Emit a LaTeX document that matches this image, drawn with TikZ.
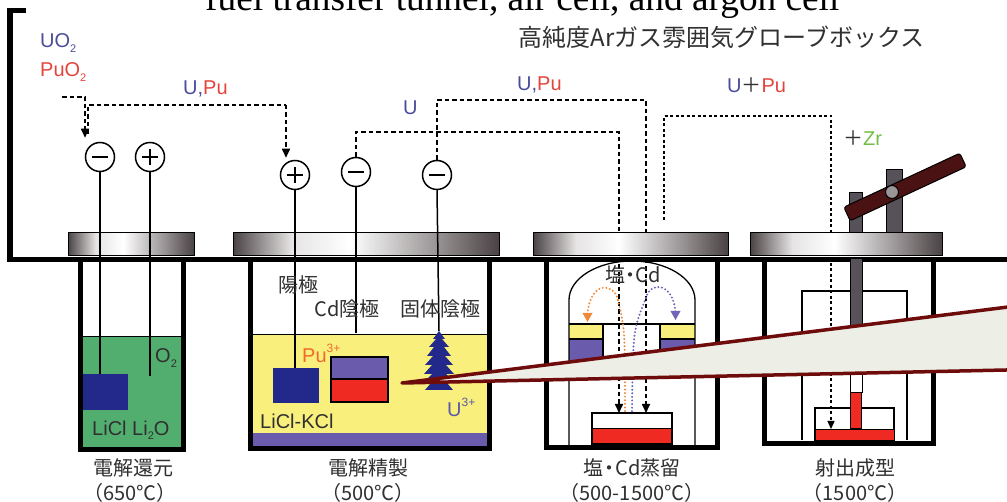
\documentclass[tikz,border=0pt]{standalone}
\usepackage{fontspec}
\setmainfont{Liberation Sans}
\newfontfamily\jpfont{Noto Sans CJK JP}
\newfontfamily\serifen{Liberation Serif}
\usetikzlibrary{arrows.meta}

\definecolor{ublue}{HTML}{4B4D9C}
\definecolor{pured}{HTML}{E5443C}
\definecolor{puorange}{HTML}{EE6A2E}
\definecolor{uion}{HTML}{5C5AA6}
\definecolor{zrgreen}{HTML}{72BE44}
\definecolor{txt}{HTML}{303030}
\definecolor{navy}{HTML}{22298A}
\definecolor{saltgreen}{HTML}{52AE6F}
\definecolor{saltyellow}{HTML}{F9EF7D}
\definecolor{cdpurple}{HTML}{6B5BAD}
\definecolor{metalred}{HTML}{EE2A22}
\definecolor{levercol}{HTML}{4A1212}
\definecolor{postcol}{HTML}{57525A}
\definecolor{callfill}{HTML}{EDEEE6}
\definecolor{callline}{HTML}{6E0B0B}
\definecolor{vaporor}{HTML}{EE8A3A}
\definecolor{vaporpu}{HTML}{6F64B8}
\definecolor{liddark}{HTML}{4A4244}
\definecolor{lidmid}{HTML}{9A9596}
\definecolor{lidlight}{HTML}{E6E4E4}

% metallic lid: the path is fitted to the 25bp..75bp band of the shading
\pgfdeclarehorizontalshading{lidshade}{100bp}{color(0bp)=(liddark); color(25bp)=(liddark); color(36bp)=(lidlight); color(47bp)=(white); color(63bp)=(lidmid); color(75bp)=(liddark); color(100bp)=(liddark)}

\newcommand\lowidx[1]{\raisebox{-0.22em}{\fontsize{11}{11}\selectfont #1}}
\newcommand\highidx[1]{\raisebox{0.5em}{\fontsize{12}{12}\selectfont #1}}

\begin{document}
\begin{tikzpicture}[x=1pt,y=-1pt,
  wall/.style={line width=5, line join=miter},
  thinline/.style={line width=1.3, draw=black},
  wire/.style={line width=1.5},
  negcirc/.style={circle, draw, line width=1.5, fill=white, minimum size=29, inner sep=0,
    path picture={\draw[line width=1.5] ([xshift=-8pt]path picture bounding box.center) -- ([xshift=8pt]path picture bounding box.center);}},
  poscirc/.style={circle, draw, line width=1.5, fill=white, minimum size=29, inner sep=0,
    path picture={\draw[line width=1.5] ([xshift=-8pt]path picture bounding box.center) -- ([xshift=8pt]path picture bounding box.center)
      ([yshift=-8pt]path picture bounding box.center) -- ([yshift=8pt]path picture bounding box.center);}},
  flow/.style={line width=1.6, dash pattern=on 4.5pt off 3pt, -{Triangle[length=9pt,width=8pt]}},
  fineflow/.style={line width=1.3, dash pattern=on 3pt off 2.5pt, -{Triangle[length=8pt,width=7pt]}},
  vapor/.style={line width=2.2, dash pattern=on 0pt off 3.6pt, line cap=round},
  block/.style={inner sep=0, outer sep=0, anchor=north west},
  lid/.style={shading=lidshade, draw=black, line width=1},
  lbl/.style={font=\jpfont\fontsize{20}{22}\selectfont, text=txt, inner sep=0},
  chem/.style={font=\fontsize{20}{22}\selectfont, inner sep=0, anchor=west},
]
\useasboundingbox (0,0) rectangle (1007,502);
\clip (0,0) rectangle (1007,502);
\fill[white] (0,0) rectangle (1007,502);

% headings
\node[anchor=base west, inner sep=0, font=\serifen\fontsize{37.3}{40}\selectfont] (hdr) at (205,10.5) {fuel transfer tunnel, air cell, and argon cell};
\node[font=\jpfont\fontsize{24}{26}\selectfont, text=txt, inner sep=0] (title) at (721.5,37) {高純度Arガス雰囲気グローブボックス};

% glove box wall
\draw[line width=5.5] (26,10.5) -- (10,10.5) -- (10,259.5) -- (1015,259.5);

% ---------- cell 1: electrolytic reduction ----------
\fill[saltgreen] (83,336) rectangle (181,449);
\draw[line width=0.8] (83,336) -- (181,336);
\node[block, fill=navy, minimum width=45, minimum height=36] (ox1) at (83,374) {};
\draw[wall] (80.5,259) -- (80.5,449.5) -- (183.5,449.5) -- (183.5,259);

% ---------- cell 2: electrorefining ----------
\fill[saltyellow] (253,334) rectangle (487,433);
\fill[cdpurple] (253,433) rectangle (487,446);
\draw[line width=0.8] (253,334) -- (487,334);
\node[block, fill=navy, minimum width=46, minimum height=35] (anode2) at (273,368) {};
\fill[cdpurple] (331,357) rectangle (388,379);
\fill[metalred] (331,379) rectangle (388,402);
\node[block, draw, line width=1.8, minimum width=57, minimum height=45] (cdpot) at (331,357) {};
\draw[line width=1.2] (331,379) -- (388,379);
\fill[navy] (439,331) -- (445,339) -- (442,339) -- (449,347) -- (444,347) -- (451,356) -- (445,356)
  -- (453,365) -- (446,365) -- (454,374) -- (446,374) -- (455,383) -- (447,383) -- (453,390)
  -- (425,390) -- (431,383) -- (423,383) -- (432,374) -- (424,374) -- (432,365) -- (425,365)
  -- (433,356) -- (427,356) -- (434,347) -- (429,347) -- (436,339) -- (433,339) -- cycle;
\coordinate (tree) at (439,331);
\draw[wall] (250.5,259) -- (250.5,448.5) -- (489.5,448.5) -- (489.5,259);

% ---------- cell 3: salt / Cd distillation ----------
\fill[saltyellow] (569,324) rectangle (603,339);
\fill[cdpurple] (569,339) rectangle (603,360);
\fill[saltyellow] (660,324) rectangle (695,339);
\fill[cdpurple] (660,339) rectangle (695,360);
\draw[thinline] (569,445) -- (569,300) .. controls (569,278.5) and (597.2,261) .. (632,261)
  .. controls (666.8,261) and (695,278.5) .. (695,300) -- (695,445);
\draw[thinline] (569,324) -- (695,324);
\draw[thinline] (569,339) -- (603,339) -- (603,324) (660,324) -- (660,339) -- (695,339);
\draw[thinline] (603,339) -- (603,360) (660,339) -- (660,360);
\fill[metalred] (592,429) rectangle (672,443);
\node[block, draw, line width=1.3, minimum width=80, minimum height=31] (dpot) at (592,413) {};
\draw[line width=1] (592,429) -- (672,429);
\draw[wall] (546.5,259) -- (546.5,447.5) -- (717.5,447.5) -- (717.5,259);

% ---------- cell 4: injection casting ----------
\draw[thinline] (802,440) -- (802,291) -- (907,291) -- (907,440);
\node[block, draw, line width=1.2, fill=white, minimum width=79, minimum height=32] (mold) at (815,408) {};
\node[block, fill=metalred, draw, line width=0.8, minimum width=79, minimum height=11] (pool) at (815,429) {};
\node[block, fill=metalred, draw, line width=1, minimum width=11, minimum height=36] (tubered) at (850.5,393) {};
\node[block, fill=white, draw, line width=1, minimum width=12, minimum height=18] (tubeempty) at (850,375) {};
\node[block, fill=postcol, draw, line width=1, minimum width=12, minimum height=116] (rod) at (850,259) {};
\draw[wall] (764.5,259) -- (764.5,443.5) -- (933.5,443.5) -- (933.5,259);

% ---------- electrodes ----------
\node[negcirc] (c1m) at (100,157) {};
\node[poscirc] (c1p) at (150,157) {};
\node[poscirc] (c2p) at (295,175) {};
\node[negcirc] (c2m) at (356,172) {};
\node[negcirc] (c2s) at (437,175) {};

% ---------- material flow ----------
\coordinate (feed) at (62,97);
\coordinate (upu) at (664,220);
\draw[flow] (feed) -| ([xshift=-15pt,yshift=4pt]c1m.north);
\draw[flow, -] ([xshift=-12pt,yshift=8pt]c1m.north) |- (286,105);
\draw[flow] (286,105) -- ([xshift=-9pt,yshift=2pt]c2p.north);
\draw[flow] (c2m.north) |- (619,132) -- ([xshift=-13pt]dpot.north);
\draw[flow] (c2s.north) |- (646,100) -- ([xshift=14pt]dpot.north);
\draw[fineflow] (upu) |- (831,116) -- ([xshift=-23.5pt]pool.north);

% vapour paths inside the still
\draw[vapor, draw=vaporor] (618,300) .. controls (614,282) and (590,281) .. (587.5,314);
\fill[vaporor] (582.5,313) -- (592.5,313) -- (587.5,322) -- cycle;
\draw[vapor, draw=vaporor] (618,300) .. controls (625,330) .. (625,412);
\draw[vapor, draw=vaporpu] (646,298) .. controls (650,281) and (673,282) .. (675.5,312);
\fill[vaporpu] (670.5,311) -- (680.5,311) -- (675.5,320) -- cycle;
\draw[vapor, draw=vaporpu] (646,298) .. controls (633,330) .. (632,412);

% ---------- lids ----------
\shadedraw[lid] (68,233) rectangle (194,256);
\shadedraw[lid] (233,233) rectangle (499,256);
\shadedraw[lid] (533,233) rectangle (728,256);
\shadedraw[lid] (750,233) rectangle (942,256);

% electrode leads
\draw[wire] (c1m.south) -- (c1m.south |- ox1.north);
\draw[wire] (c1p.south) -- (150,376);
\draw[wire] (c2p.south) -- (c2p.south |- anode2.north);
\draw[wire] (c2m.south) -- (356,333);
\draw[wire] (c2s.south) -- (tree);

% casting lever and posts
\node[block, fill=postcol, draw, line width=1, minimum width=13, minimum height=40] (post1) at (849,193) {};
\node[block, fill=postcol, draw, line width=1, minimum width=16, minimum height=63] (post2) at (886,170) {};
\filldraw[fill=levercol, draw=black, line width=1, rounded corners=2.5] (850.2,220.8) -- (843.8,207.2) -- (959.8,153.2) -- (966.2,166.8) -- cycle;
\filldraw[fill=lidmid, draw=black, line width=1] (892,192) circle[radius=6.5];

% ---------- labels ----------
\node[chem, text=ublue] (uo2) at (40,43) {UO\lowidx{2}};
\node[chem, text=pured] (puo2) at (40,72) {PuO\lowidx{2}};
\node[chem] (l1) at (183,89) {\textcolor{ublue}{U,}\textcolor{pured}{Pu}};
\node[chem, text=ublue] (l2) at (403,108) {U};
\node[chem] (l3) at (517,85) {\textcolor{ublue}{U,}\textcolor{pured}{Pu}};
\node[chem] (l4) at (727,85) {\textcolor{ublue}{U}\textcolor{txt}{\jpfont ＋}\textcolor{pured}{Pu}};
\node[chem] (l5) at (843,138) {\textcolor{txt}{\jpfont ＋}\textcolor{zrgreen}{Zr}};

\node[chem, text=txt] (o2) at (155,358) {O\lowidx{2}};
\node[chem, text=txt] (salt1) at (92,430) {LiCl Li\lowidx{2}O};
\node[lbl] (an) at (298,285) {陽極};
\node[lbl] (cdc) at (347,309) {Cd陰極};
\node[lbl] (sc) at (440,309) {固体陰極};
\node[chem, text=puorange] (pu3) at (302,353) {Pu\highidx{3+}};
\node[chem, text=uion] (u3) at (447,407) {U\highidx{3+}};
\node[chem, text=txt] (salt2) at (260,421) {LiCl-KCl};
\node[lbl] (vap) at (633,275) {塩\kern-5pt・\kern-5pt Cd};

\node[lbl] (n1) at (133,468) {電解還元};
\node[lbl] (t1) at (130,493) {（650℃）};
\node[lbl] (n2) at (368,468) {電解精製};
\node[lbl] (t2) at (368,493) {（500℃）};
\node[lbl] (n3) at (632,468) {塩\kern-4pt・\kern-4pt Cd蒸留};
\node[lbl] (t3) at (632,493) {（500-1500℃）};
\node[lbl] (n4) at (855,468) {射出成型};
\node[lbl] (t4) at (855,493) {（1500℃）};

% ---------- callout pointer ----------
\coordinate (tip) at (402,383);
\filldraw[fill=callfill, draw=callline, line width=3.5, line join=round] (tip) -- (1020,305.5) -- (1020,369.7) -- cycle;
\end{tikzpicture}
\end{document}
